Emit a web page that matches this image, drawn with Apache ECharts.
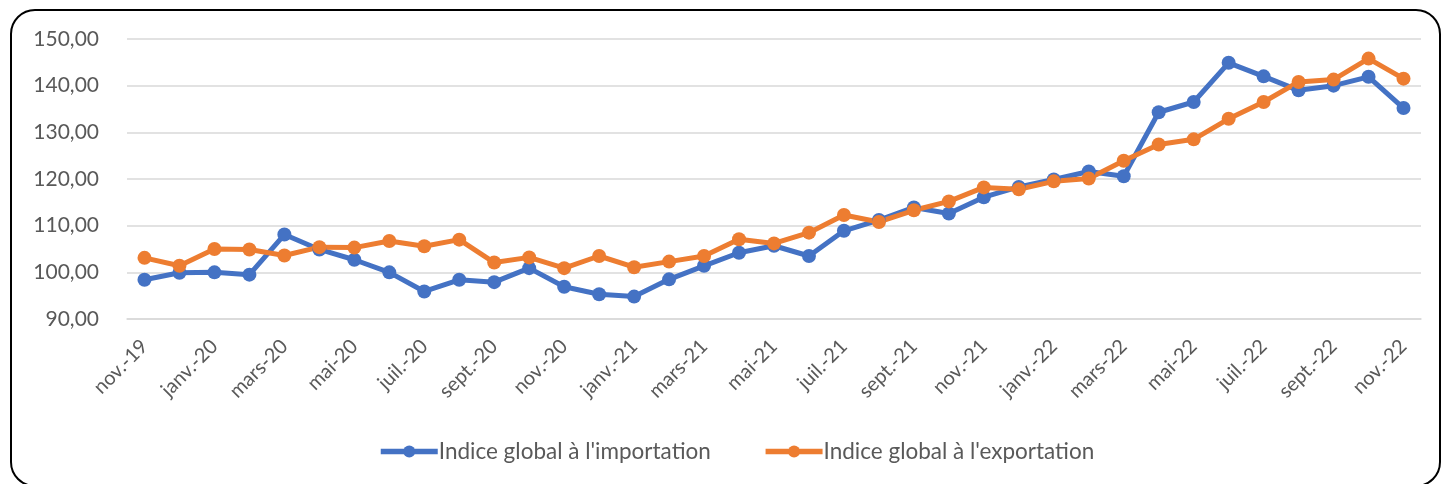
<!DOCTYPE html>
<html lang="fr">
    <head>
        <meta charset="utf-8" />
        <title>Indices globaux</title>
        <script src="https://cdn.jsdelivr.net/npm/echarts@6/dist/echarts.min.js"></script>
    </head>
    <body style="margin:0;">
    <div id="chart" style="width: 1445px;height:484px;"></div>
    <script type="text/javascript">
        // mois : nov.-19 -> nov.-22
        const months = ['nov.-19', 'déc.-19', 'janv.-20', 'févr.-20', 'mars-20', 'avr.-20', 'mai-20', 'juin-20',
            'juil.-20', 'août-20', 'sept.-20', 'oct.-20', 'nov.-20', 'déc.-20', 'janv.-21', 'févr.-21',
            'mars-21', 'avr.-21', 'mai-21', 'juin-21', 'juil.-21', 'août-21', 'sept.-21', 'oct.-21',
            'nov.-21', 'déc.-21', 'janv.-22', 'févr.-22', 'mars-22', 'avr.-22', 'mai-22', 'juin-22',
            'juil.-22', 'août-22', 'sept.-22', 'oct.-22', 'nov.-22'];

        const importIdx = [98.4, 99.9, 100.0, 99.5, 108.1, 104.9, 102.7, 100.0, 95.9, 98.4, 97.9, 100.9,
            96.9, 95.3, 94.8, 98.5, 101.4, 104.2, 105.7, 103.5, 108.9, 111.2, 113.9, 112.6,
            116.1, 118.3, 119.9, 121.6, 120.6, 134.3, 136.5, 144.9, 142.0, 139.0, 140.0, 141.9, 135.2];

        const exportIdx = [103.1, 101.4, 105.0, 104.9, 103.6, 105.4, 105.3, 106.7, 105.6, 107.0, 102.1, 103.2,
            100.9, 103.5, 101.1, 102.3, 103.5, 107.1, 106.2, 108.5, 112.3, 110.8, 113.3, 115.2,
            118.2, 117.8, 119.5, 120.1, 123.9, 127.4, 128.5, 132.9, 136.5, 140.8, 141.3, 145.8, 141.5];

        const seriesNames = ["Indice global à l'importation", "Indice global à l'exportation"];
        const colors = ['#4472C4', '#ED7D31'];

        const textColor = '#595959';
        const fontName = 'Lato, "Open Sans", sans-serif';

        const myChart = echarts.init(document.getElementById('chart'));
        const option = {
            animation: false,
            color: colors,
            grid: {
                left: 127,
                right: 24,
                top: 39,
                bottom: 165
            },
            graphic: [{
                type: 'rect',
                shape: {x: 11, y: 10, width: 1429, height: 476, r: 24},
                style: {fill: 'none', stroke: '#000', lineWidth: 2}
            }],
            legend: {
                data: seriesNames,
                bottom: 16,
                left: 373,
                itemWidth: 57,
                itemHeight: 15,
                itemGap: 52,
                lineStyle: {width: 5.5},
                textStyle: {color: textColor, fontSize: 22.5, fontFamily: fontName, padding: [0, 0, 0, -4]}
            },
            xAxis: {
                type: 'category',
                data: months,
                boundaryGap: true,
                axisLine: {lineStyle: {color: '#d9d9d9', width: 1.5}},
                axisTick: {show: false},
                axisLabel: {
                    interval: 1,
                    rotate: 45,
                    color: textColor,
                    fontSize: 20,
                    fontFamily: fontName,
                    margin: 24
                }
            },
            yAxis: {
                type: 'value',
                min: 90,
                max: 150,
                interval: 10,
                axisLine: {show: false},
                axisTick: {show: false},
                splitLine: {lineStyle: {color: '#d9d9d9', width: 1.5}},
                axisLabel: {
                    color: textColor,
                    fontSize: 21,
                    fontFamily: fontName,
                    margin: 28,
                    formatter: function (v) { return v.toFixed(2).replace('.', ','); }
                }
            },
            series: [{
                name: seriesNames[0],
                type: 'line',
                data: importIdx,
                symbol: 'circle',
                symbolSize: 14,
                lineStyle: {width: 5}
            }, {
                name: seriesNames[1],
                type: 'line',
                data: exportIdx,
                symbol: 'circle',
                symbolSize: 14,
                lineStyle: {width: 5}
            }]
        };
        myChart.setOption(option);
    </script>
    </body>
</html>
